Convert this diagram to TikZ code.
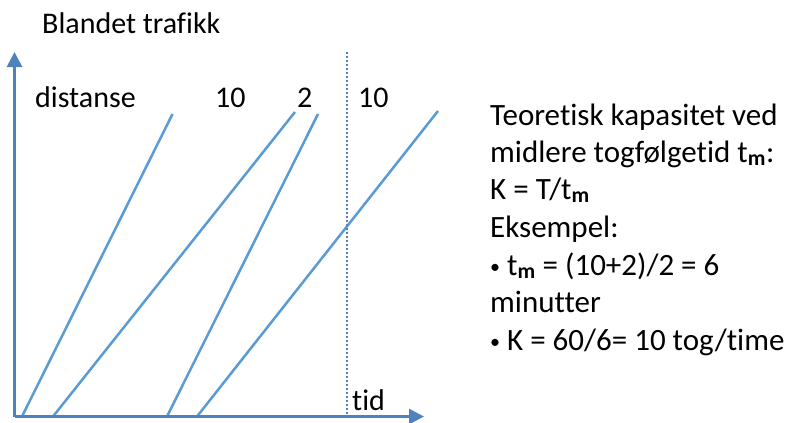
\documentclass[tikz,border=0pt]{standalone}
\usepackage{fontspec}
\setmainfont{Carlito}[Ligatures=NoCommon]
\usetikzlibrary{arrows.meta}
\definecolor{axblue}{HTML}{4F81BD}
\definecolor{lnblue}{HTML}{5B9BD5}
\newcommand{\tm}{t\textsubscript{\textbf{m}}}
\newcommand{\smallbullet}{\raisebox{2pt}{\fontsize{20}{20}\selectfont •}}
\begin{document}
\begin{tikzpicture}[x=1pt,y=-1pt,
  axis/.style={draw=axblue,line width=2.8pt,-{Triangle[length=15pt,width=15pt]}},
  train/.style={draw=lnblue,line width=2.5pt},
  guide/.style={draw=axblue,line width=2.4pt,dash pattern=on 1.8pt off 2.2pt},
  lbl/.style={anchor=base west,inner sep=0pt,font=\fontsize{30}{36}\selectfont},
  rtxt/.style={anchor=base west,inner sep=0pt,font=\fontsize{31}{36}\selectfont}]
\useasboundingbox (0,0) rectangle (796,423);
\coordinate (O) at (14.5,416.5);
\coordinate (ytop) at (14.5,52);
\coordinate (xend) at (424,416.5);
% train lines
\coordinate (a0) at (22,416.5);  \coordinate (a1) at (172.5,114);
\coordinate (b0) at (53,416.5);  \coordinate (b1) at (295,112);
\coordinate (c0) at (167,416.5); \coordinate (c1) at (318,114);
\coordinate (d0) at (197,416.5); \coordinate (d1) at (438,111);
\draw[train] (a0) -- (a1);
\draw[train] (b0) -- (b1);
\draw[train] (c0) -- (c1);
\draw[train] (d0) -- (d1);
% dotted guide
\coordinate (g0) at (347,52);
\coordinate (g1) at (347,415);
\draw[guide] (g0) -- (g1);
% axes
\draw[axis] (O) -- (ytop);
\draw[axis] (O) -- (xend);
% labels
\node[lbl] (title) at (42,33) {Blandet trafikk};
\node[lbl] (dist) at (35,107) {distanse};
\node[lbl] (n10a) at (215,107) {10};
\node[lbl] (n2) at (297,107) {2};
\node[lbl] (n10b) at (358,107) {10};
\node[lbl] (tid) at (352,410) {tid};
% right text
\node[rtxt] (r1) at (490,125) {Teoretisk kapasitet ved};
\node[rtxt] (r2) at (490,162) {midlere togfølgetid \tm:};
\node[rtxt] (r3) at (490,199) {K = T/\tm};
\node[rtxt] (r4) at (490,237) {Eksempel:};
\node[rtxt] (r5) at (490,275) {\smallbullet{} \tm{} = (10+2)/2 = 6};
\node[rtxt] (r6) at (490,312) {minutter};
\node[rtxt] (r7) at (490,350) {\smallbullet{} K = 60/6= 10 tog/time};
\end{tikzpicture}
\end{document}
